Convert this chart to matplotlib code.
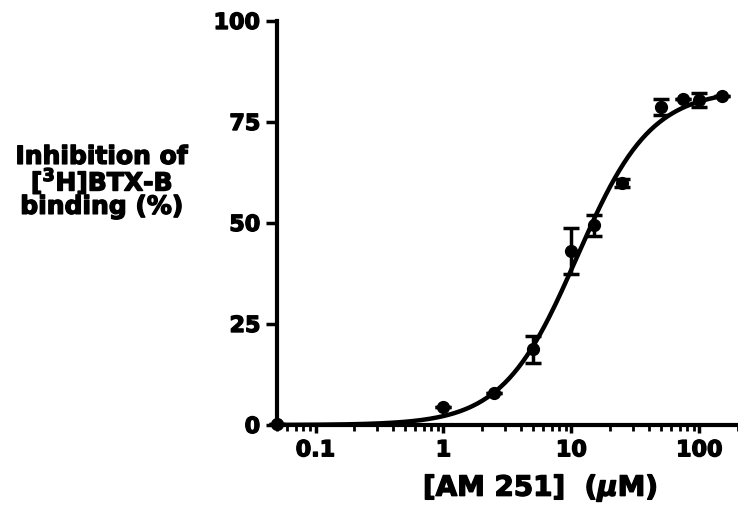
import numpy as np
import matplotlib
matplotlib.use("Agg")
import matplotlib.pyplot as plt
import matplotlib.patheffects as pe
from matplotlib.ticker import LogLocator, FixedLocator

# Dados
conc = [0.05, 1, 2.5, 5, 10, 15, 25, 50, 75, 100, 150]          # [AM 251] (uM)
inib = [0.3, 4.5, 7.9, 18.7, 43.0, 49.4, 60.0, 78.8, 80.8, 80.4, 81.5]  # % inibição
erro = [0, 0, 0, 3.3, 5.7, 2.7, 1.0, 2.0, 0, 1.8, 0]

# Parâmetros da curva ajustada (sigmoide)
topo = 83.0
ec50 = 11.0
hill = 1.5

y_ticks = [0, 25, 50, 75, 100]
x_ticks = [0.1, 1, 10, 100]
x_labels = ['0.1', '1', '10', '100']

plt.rcParams['font.family'] = ['DejaVu Sans']
plt.rcParams['font.weight'] = 'bold'
plt.rcParams['mathtext.fontset'] = 'dejavusans'

grosso = [pe.withStroke(linewidth=1.0, foreground='black')]

fig = plt.figure(figsize=(7.38, 5.08), dpi=100)
ax = fig.add_axes([0.3753, 0.1634, 0.6247, 0.7953])

xc = np.logspace(np.log10(0.05), np.log10(150), 300)
yc = topo / (1 + (ec50 / xc) ** hill)
ax.plot(xc, yc, color='black', lw=3.2, zorder=2)

ax.errorbar(conc, inib, yerr=erro, fmt='o', color='black', ms=8.5,
            capsize=6, capthick=2.5, elinewidth=2.5, zorder=3, clip_on=False)

ax.set_xscale('log')
ax.set_xlim(0.05, 200)
ax.set_ylim(0, 100)

ax.spines['top'].set_visible(False)
ax.spines['right'].set_visible(False)
ax.spines['left'].set_linewidth(3)
ax.spines['bottom'].set_linewidth(3)

ax.xaxis.set_major_locator(FixedLocator(x_ticks))
ax.set_xticklabels(x_labels)
ax.xaxis.set_minor_locator(LogLocator(base=10, subs=np.arange(2, 10)))
ax.set_yticks(y_ticks)
ax.set_yticklabels([str(v) for v in y_ticks])

ax.tick_params(axis='y', which='major', direction='out', width=2.5, length=8,
               labelsize=16, pad=4)
ax.tick_params(axis='x', which='major', direction='out', width=2.5, length=6,
               labelsize=16, pad=5)
ax.tick_params(axis='x', which='minor', direction='out', width=2, length=4)
for lab in ax.get_xticklabels() + ax.get_yticklabels():
    lab.set_fontweight('bold')
    lab.set_path_effects(grosso)

fig.text(0.732, 0.04, '[AM 251]  ($\\mathit{\\mu}$M)', ha='center', va='center',
         fontsize=20, fontweight='bold', path_effects=grosso)
fig.text(0.138, 0.642, 'Inhibition of\n[$^3$H]BTX-B\nbinding (%)', ha='center', va='center',
         fontsize=18, fontweight='bold', linespacing=0.88, path_effects=grosso)

plt.savefig('out.png', dpi=100)
plt.close()
